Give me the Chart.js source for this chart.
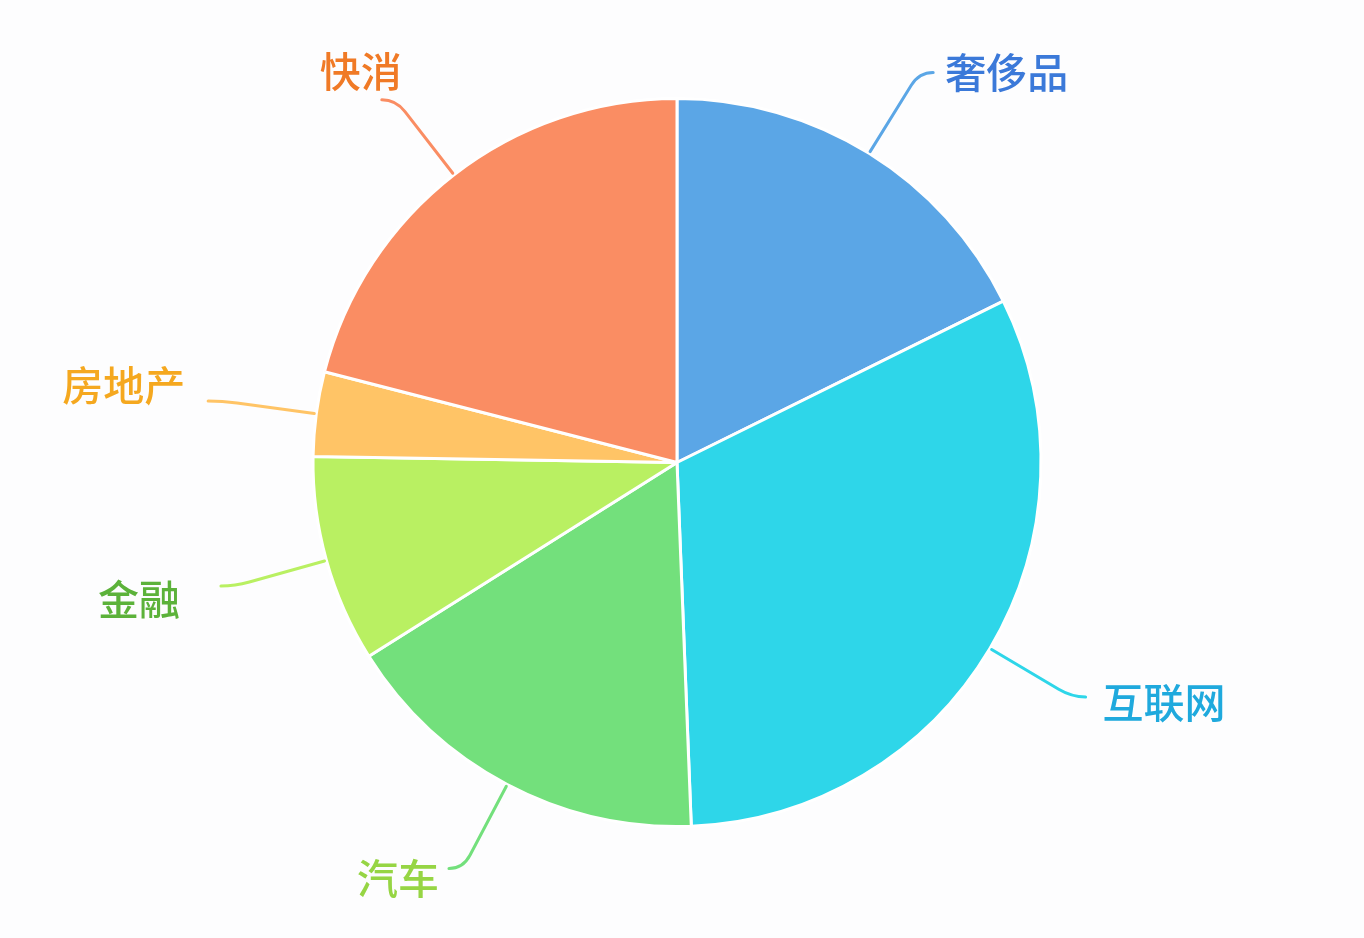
<!DOCTYPE html>
<html>
<head>
<meta charset="utf-8">
<script src="https://cdn.jsdelivr.net/npm/chart.js@4.4.0/dist/chart.umd.min.js"></script>
<style>
  html, body { margin: 0; padding: 0; background: #fdfdfe; }
  #wrap { width: 1364px; height: 938px; }
</style>
</head>
<body>
<div id="wrap"><canvas id="pieChart" width="1364" height="938"></canvas></div>
<script>
// Data
const categories = ['奢侈品', '互联网', '汽车', '金融', '房地产', '快消'];
const shares = [17.7, 31.7, 16.7, 9.2, 3.75, 21.0];
const sliceColors = ['#5ba6e6', '#2ed6e9', '#73e07c', '#b9f062', '#ffc466', '#fa8d63'];
const labelColors = ['#3b79d9', '#1fa9dd', '#96d544', '#5cb23a', '#f5a81f', '#f07a26'];

// Outside labels with leader lines
const pieLabels = {
  id: 'pieLabels',
  afterDatasetsDraw(chart, args, opts) {
    const ctx = chart.ctx;
    const arcs = chart.getDatasetMeta(0).data;
    const nudge = opts.nudge || [];
    ctx.save();
    ctx.font = '500 41px "Noto Sans CJK SC", sans-serif';
    ctx.textBaseline = 'middle';
    arcs.forEach((arc, i) => {
      const { x, y, startAngle, endAngle, outerRadius } = arc.getProps(['x', 'y', 'startAngle', 'endAngle', 'outerRadius'], true);
      const mid = (startAngle + endAngle) / 2;
      const cos = Math.cos(mid), sin = Math.sin(mid);
      const side = cos >= 0 ? 1 : -1;
      const p0 = { x: x + (outerRadius + 2) * cos, y: y + (outerRadius + 2) * sin };
      const p1 = { x: x + (outerRadius + 95) * cos, y: y + (outerRadius + 95) * sin };
      const pa = { x: x + (outerRadius + 80) * cos, y: y + (outerRadius + 80) * sin };
      const p2 = { x: p1.x + side * 14, y: p1.y };

      ctx.strokeStyle = sliceColors[i];
      ctx.lineWidth = 3;
      ctx.lineCap = 'round';
      ctx.beginPath();
      ctx.moveTo(p0.x, p0.y);
      ctx.lineTo(pa.x, pa.y);
      ctx.quadraticCurveTo(p1.x, p1.y, p2.x, p2.y);
      ctx.stroke();

      const [dx, dy] = nudge[i] || [0, 0];
      ctx.fillStyle = labelColors[i];
      ctx.textAlign = side > 0 ? 'left' : 'right';
      ctx.fillText(categories[i], p2.x + side * 14 + dx, p2.y + dy);
    });
    ctx.restore();
  }
};

const ctx = document.getElementById('pieChart').getContext('2d');
const pieChart = new Chart(ctx, {
  type: 'pie',
  data: {
    labels: categories,
    datasets: [{
      data: shares,
      backgroundColor: sliceColors,
      borderColor: '#ffffff',
      borderWidth: 3
    }]
  },
  options: {
    responsive: false,
    animation: false,
    layout: { padding: { top: 97, bottom: 110, left: 300, right: 310 } },
    plugins: {
      legend: { display: false },
      tooltip: { enabled: false },
      // small label shifts so text sits where the original put it
      pieLabels: { nudge: [[-2, 0], [3, 5], [4, 10], [-27, 13], [-9, -16], [34, -28]] }
    }
  },
  plugins: [pieLabels]
});
</script>
</body>
</html>
